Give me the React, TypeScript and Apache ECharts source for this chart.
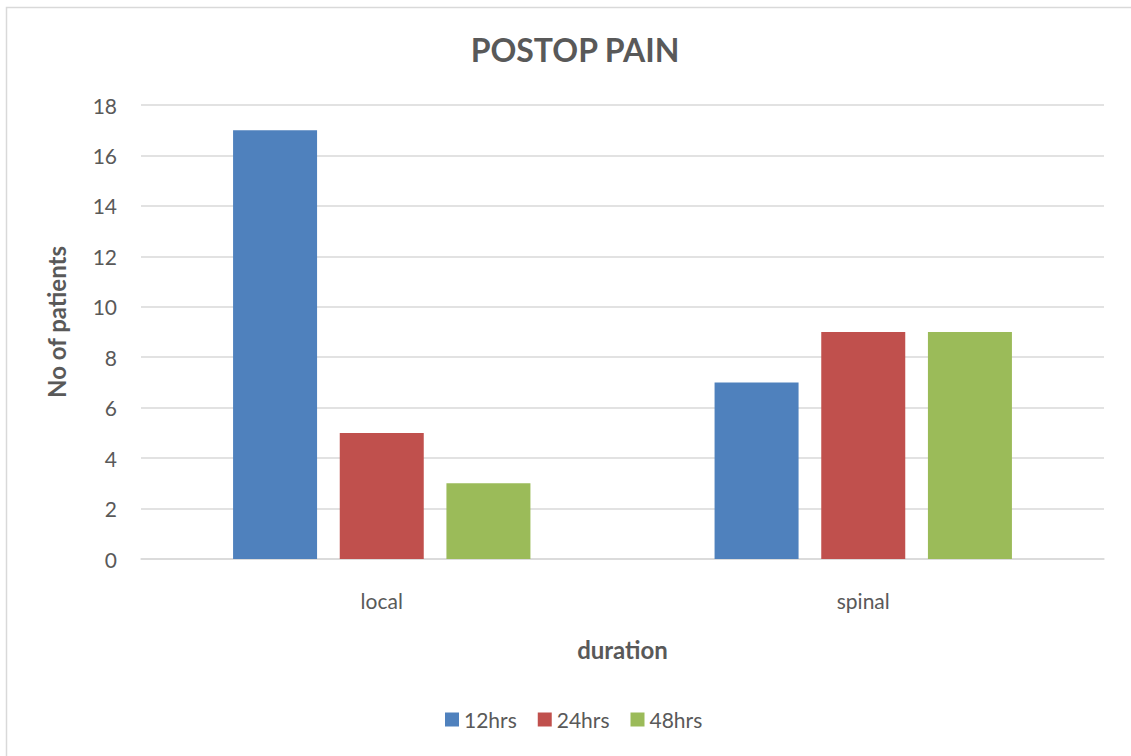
import React, { useEffect, useRef } from "react";
import * as echarts from "echarts";

const categories = ["local", "spinal"];
const seriesNames = ["12hrs", "24hrs", "48hrs"];
const values12 = [17, 7];
const values24 = [5, 9];
const values48 = [3, 9];
const colors = ["#4F81BD", "#C0504D", "#9BBB59"];

const FONT = "Lato, 'Open Sans', sans-serif";
const TEXT = "#595959";
const GRID_LINE = "#d9d9d9";

export default function App() {
  const ref = useRef<HTMLDivElement>(null);

  useEffect(() => {
    if (!ref.current) return;
    const chart = echarts.init(ref.current, undefined, { renderer: "svg" });
    const data = [values12, values24, values48];
    chart.setOption({
      animation: false,
      backgroundColor: "#ffffff",
      title: {
        text: "POSTOP PAIN",
        left: 570,
        top: 28,
        textAlign: "center",
        textStyle: { fontFamily: FONT, fontWeight: "bold", fontSize: 32, color: TEXT },
      },
      graphic: [
        {
          type: "rect",
          shape: { x: 6.5, y: 7.5, width: 1200, height: 800 },
          style: { fill: "none", stroke: GRID_LINE, lineWidth: 1.5 },
          silent: true,
        },
      ],
      legend: {
        top: 704,
        left: 440,
        itemWidth: 14,
        itemHeight: 14,
        itemGap: 21,
        icon: "rect",
        data: seriesNames,
        textStyle: { fontFamily: FONT, fontSize: 21, color: TEXT, padding: [0, 0, 0, 0] },
      },
      grid: { left: 141, right: 27, top: 105, bottom: 197 },
      xAxis: {
        type: "category",
        data: categories,
        name: "duration",
        nameLocation: "middle",
        nameGap: 78,
        nameTextStyle: { fontFamily: FONT, fontWeight: "bold", fontSize: 24, color: TEXT },
        axisTick: { show: false },
        axisLine: { lineStyle: { color: GRID_LINE, width: 1.5 } },
        axisLabel: { margin: 31, fontFamily: FONT, fontSize: 21, color: TEXT },
      },
      yAxis: {
        type: "value",
        min: 0,
        max: 18,
        interval: 2,
        name: "No of patients",
        nameLocation: "middle",
        nameGap: 73,
        nameTextStyle: { fontFamily: FONT, fontWeight: "bold", fontSize: 24, color: TEXT, padding: [0, 0, 0, 20] },
        axisLine: { show: false },
        axisTick: { show: false },
        splitLine: { lineStyle: { color: GRID_LINE, width: 1.5 } },
        axisLabel: { margin: 24, fontFamily: FONT, fontSize: 21, color: TEXT },
      },
      series: seriesNames.map((name, i) => ({
        name,
        type: "bar",
        data: data[i],
        barWidth: 84,
        barGap: "27%",
        itemStyle: { color: colors[i] },
      })),
    });
    return () => chart.dispose();
  }, []);

  return (
    <div
      ref={ref}
      style={{ position: "fixed", left: 0, top: 0, width: 1131, height: 756 }}
    />
  );
}
